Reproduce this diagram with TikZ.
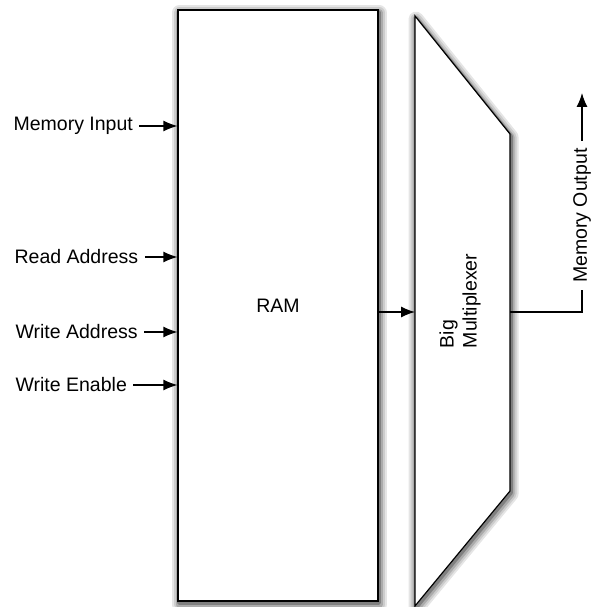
\documentclass[tikz,border=0pt]{standalone}
\usepackage{fontspec}
\setmainfont{Liberation Sans}
\usetikzlibrary{arrows.meta}
\begin{document}
\begin{tikzpicture}[x=1pt,y=-1pt,line width=1.2pt,
    font=\fontsize{19.5}{23}\selectfont]
  \tikzstyle{block}=[draw, fill=white, inner sep=0pt,
    preaction={draw=black!10, line width=15pt, line join=round, transform canvas={xshift=1pt, yshift=-3pt}},
    preaction={draw=black!20, line width=11pt, line join=round, transform canvas={xshift=1pt, yshift=-3pt}},
    preaction={draw=black!33, line width=7pt, line join=round, transform canvas={xshift=1pt, yshift=-3pt}},
    preaction={draw=black!50, line width=3.5pt, line join=round, transform canvas={xshift=1pt, yshift=-2pt}}]
  \tikzstyle{inlabel}=[anchor=west, inner xsep=6pt, inner ysep=0pt]
  \tikzstyle{conn}=[-{Latex[length=14pt,width=11pt]}]
  \useasboundingbox (0,0) rectangle (592,607);

  % RAM and multiplexer
  \node[block, minimum width=200pt, minimum height=591pt] (ram) at (278,305.5) {RAM};
  \path[block] (415,16) -- (510,134) -- (510,491) -- (415,606) -- cycle;
  \coordinate (muxin) at (415,312);
  \coordinate (muxout) at (510,312);
  \node[rotate=90, align=left, inner sep=0pt] (muxlabel) at (460,301) {Big\\Multiplexer};

  % Input labels
  \node[inlabel] (memin) at (7,126) {Memory Input};
  \node[inlabel] (rdaddr) at (8,257) {Read Address};
  \node[inlabel] (wraddr) at (9,332) {Write Address};
  \node[inlabel] (wren) at (9,385) {Write Enable};

  % Connections
  \draw[conn] (memin) -- (memin -| ram.west);
  \draw[conn] (rdaddr) -- (rdaddr -| ram.west);
  \draw[conn] (wraddr) -- (wraddr -| ram.west);
  \draw[conn] (wren) -- (wren -| ram.west);
  \draw[conn] (muxin -| ram.east) -- (muxin);

  % Output
  \coordinate (outbend) at (582,312);
  \coordinate (outtip) at (582,93);
  \draw[conn] (muxout) -- (outbend) -- node[pos=0.44, rotate=90, fill=white, inner xsep=7pt, inner ysep=1pt] (memout) {Memory Output} (outtip);
\end{tikzpicture}
\end{document}
